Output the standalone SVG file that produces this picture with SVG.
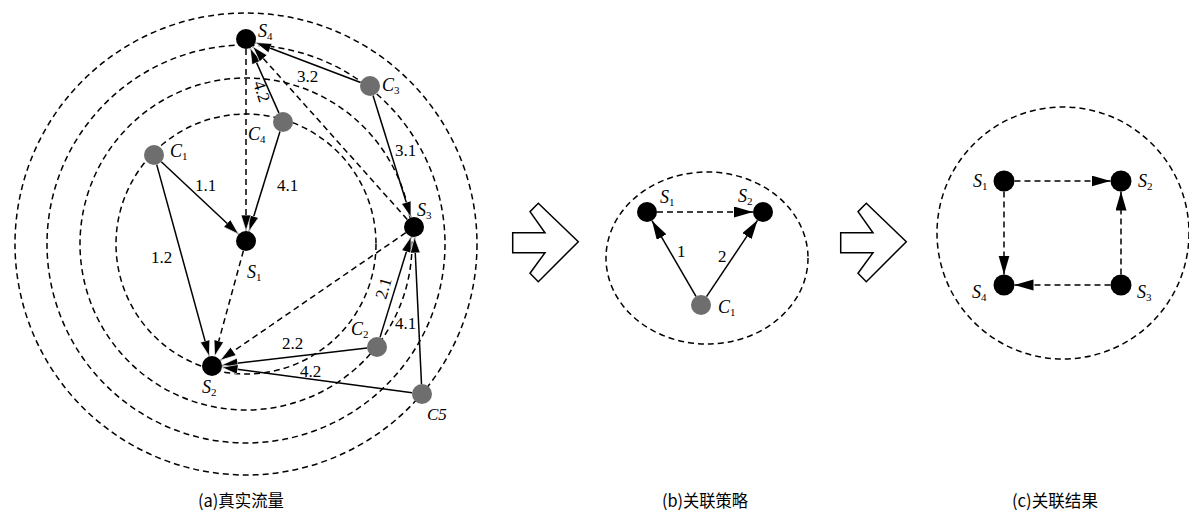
<svg xmlns="http://www.w3.org/2000/svg" width="1189" height="520" viewBox="0 0 1189 520">
  <style>
    .ring { fill: none; stroke: #000; stroke-width: 1.5; stroke-dasharray: 6 4; }
    .flow { stroke: #000; stroke-width: 1.5; fill: none; marker-end: url(#head); }
    .link { stroke: #000; stroke-width: 1.5; fill: none; stroke-dasharray: 6 4; marker-end: url(#head); }
    .flow.big, .link.big { marker-end: url(#head-lg); }
    .srv { fill: #000; }
    .cli { fill: #6e6e6e; }
    .lbl { font-family: "Liberation Serif", "DejaVu Serif", serif; font-size: 17px; fill: #000; }
    .it { font-style: italic; font-size: 18px; }
    .sub { font-size: 11px; font-style: normal; }
    .cap { font-family: "Noto Sans CJK SC", "Liberation Sans", sans-serif; font-size: 17px; fill: #000; }
    .chev { fill: #fff; stroke: #000; stroke-width: 1.5; stroke-linejoin: miter; }
  </style>
  <defs>
    <marker id="head" markerUnits="userSpaceOnUse" markerWidth="18" markerHeight="12" refX="16" refY="5" orient="auto">
      <path d="M0,0 L16,5 L0,10 z" fill="#000" stroke="#fff" stroke-width="0.7"/>
    </marker>
    <marker id="head-lg" markerUnits="userSpaceOnUse" markerWidth="20" markerHeight="12" refX="19" refY="5.5" orient="auto">
      <path d="M0,0 L19,5.5 L0,11 z" fill="#000"/>
    </marker>
    <polygon id="chevron" points="0,29.4 32.3,29.4 17.3,8.4 25.6,0 65.6,38.4 25.6,78.4 17.3,70 32.3,49.4 0,49.4"/>
  </defs>

  <!-- (a) traffic rings -->
  <g id="rings-a">
    <circle class="ring" cx="246" cy="244" r="130"/>
    <circle class="ring" cx="246" cy="244" r="166"/>
    <circle class="ring" cx="246" cy="244" r="199"/>
    <circle class="ring" cx="246" cy="244" r="231"/>
  </g>

  <!-- (a) connectors -->
  <g id="edges-a">
    <line class="flow" x1="161.3" y1="161.8" x2="238.7" y2="234.2"/>
    <line class="flow" x1="156.7" y1="164.6" x2="209.3" y2="356.4"/>
    <line class="flow" x1="280.0" y1="131.5" x2="249.0" y2="231.5"/>
    <line class="flow" x1="278.9" y1="112.9" x2="250.1" y2="48.1"/>
    <line class="flow" x1="360.6" y1="82.5" x2="255.4" y2="42.5"/>
    <line class="flow" x1="373.0" y1="95.5" x2="411.0" y2="217.5"/>
    <line class="flow" x1="380.0" y1="337.4" x2="411.1" y2="236.5"/>
    <line class="flow" x1="367.1" y1="348.1" x2="221.9" y2="364.9"/>
    <line class="flow" x1="421.5" y1="384.0" x2="414.5" y2="237.0"/>
    <line class="flow" x1="412.1" y1="392.7" x2="221.9" y2="367.3"/>
    <line class="link" x1="246" y1="49" x2="246" y2="231"/>
    <line class="link" x1="243.4" y1="250.7" x2="214.6" y2="356.3"/>
    <line class="link" x1="405.8" y1="232.7" x2="220.2" y2="360.3"/>
    <line class="link" x1="407.3" y1="219.5" x2="252.7" y2="46.5"/>
  </g>

  <!-- (a) edge labels -->
  <g id="edge-labels-a" class="lbl">
    <text x="195" y="191">1.1</text>
    <text x="151" y="263">1.2</text>
    <text x="277" y="191">4.1</text>
    <text transform="translate(253,83) rotate(72)">4.2</text>
    <text x="297" y="82">3.2</text>
    <text x="395" y="156">3.1</text>
    <text transform="translate(386,300) rotate(-74)">2.1</text>
    <text x="282" y="349">2.2</text>
    <text x="395" y="329">4.1</text>
    <text x="300" y="377">4.2</text>
  </g>

  <!-- (a) nodes -->
  <g id="a-S4"><circle class="srv" cx="246" cy="39" r="10"/><text class="lbl" x="258" y="37"><tspan class="it">S</tspan><tspan class="sub" dy="3">4</tspan></text></g>
  <g id="a-S1"><circle class="srv" cx="246" cy="241" r="10"/><text class="lbl" x="247" y="278"><tspan class="it">S</tspan><tspan class="sub" dy="3">1</tspan></text></g>
  <g id="a-S2"><circle class="srv" cx="212" cy="366" r="10"/><text class="lbl" x="202" y="393"><tspan class="it">S</tspan><tspan class="sub" dy="3">2</tspan></text></g>
  <g id="a-S3"><circle class="srv" cx="414" cy="227" r="10"/><text class="lbl" x="417" y="216"><tspan class="it">S</tspan><tspan class="sub" dy="3">3</tspan></text></g>
  <g id="a-C1"><circle class="cli" cx="154" cy="155" r="10"/><text class="lbl" x="170" y="157"><tspan class="it">C</tspan><tspan class="sub" dy="3">1</tspan></text></g>
  <g id="a-C2"><circle class="cli" cx="377" cy="347" r="10"/><text class="lbl" x="351" y="335"><tspan class="it">C</tspan><tspan class="sub" dy="3">2</tspan></text></g>
  <g id="a-C3"><circle class="cli" cx="370" cy="86" r="10"/><text class="lbl" x="382" y="91"><tspan class="it">C</tspan><tspan class="sub" dy="3">3</tspan></text></g>
  <g id="a-C4"><circle class="cli" cx="283" cy="122" r="10"/><text class="lbl" x="248" y="140"><tspan class="it">C</tspan><tspan class="sub" dy="3">4</tspan></text></g>
  <g id="a-C5"><circle class="cli" cx="422" cy="394" r="10"/><text class="lbl" x="427" y="420" font-style="italic" font-size="18">C5</text></g>

  <!-- step arrows -->
  <g id="step-arrow-1"><use href="#chevron" class="chev" x="512.7" y="203.3"/></g>
  <g id="step-arrow-2"><use href="#chevron" class="chev" x="840.7" y="203.3"/></g>

  <!-- (b) association strategy -->
  <g id="ring-b"><ellipse class="ring" cx="707" cy="258" rx="101" ry="86"/></g>
  <g id="edges-b">
    <line class="link big" x1="657" y1="212" x2="753" y2="212"/>
    <line class="flow big" x1="696" y1="296.3" x2="652.0" y2="220.7"/>
    <line class="flow big" x1="706.5" y1="296.7" x2="757.5" y2="220.3"/>
  </g>
  <g id="edge-labels-b" class="lbl">
    <text x="677" y="257">1</text>
    <text x="718" y="262">2</text>
  </g>
  <g id="b-S1"><circle class="srv" cx="647" cy="212" r="10"/><text class="lbl" x="660" y="203"><tspan class="it">S</tspan><tspan class="sub" dy="3">1</tspan></text></g>
  <g id="b-S2"><circle class="srv" cx="763" cy="212" r="10"/><text class="lbl" x="738" y="202"><tspan class="it">S</tspan><tspan class="sub" dy="3">2</tspan></text></g>
  <g id="b-C1"><circle class="cli" cx="701" cy="305" r="10"/><text class="lbl" x="718" y="313"><tspan class="it">C</tspan><tspan class="sub" dy="3">1</tspan></text></g>

  <!-- (c) association result -->
  <g id="ring-c"><circle class="ring" cx="1063" cy="233" r="126"/></g>
  <g id="edges-c">
    <line class="link big" x1="1014.5" y1="181" x2="1110.5" y2="181"/>
    <line class="link big" x1="1004" y1="191.5" x2="1004" y2="274.5"/>
    <line class="link big" x1="1121" y1="274.5" x2="1121" y2="191.5"/>
    <line class="link big" x1="1110.5" y1="285" x2="1014.5" y2="285"/>
  </g>
  <g id="c-S1"><circle class="srv" cx="1004" cy="181" r="10.5"/><text class="lbl" x="973" y="187"><tspan class="it">S</tspan><tspan class="sub" dy="3">1</tspan></text></g>
  <g id="c-S2"><circle class="srv" cx="1121" cy="181" r="10.5"/><text class="lbl" x="1138" y="187"><tspan class="it">S</tspan><tspan class="sub" dy="3">2</tspan></text></g>
  <g id="c-S3"><circle class="srv" cx="1121" cy="285" r="10.5"/><text class="lbl" x="1137" y="298"><tspan class="it">S</tspan><tspan class="sub" dy="3">3</tspan></text></g>
  <g id="c-S4"><circle class="srv" cx="1004" cy="285" r="10.5"/><text class="lbl" x="972" y="298"><tspan class="it">S</tspan><tspan class="sub" dy="3">4</tspan></text></g>

  <!-- captions -->
  <g id="captions" class="cap">
    <text x="241" y="507" text-anchor="middle" textLength="86" lengthAdjust="spacingAndGlyphs">(a)真实流量</text>
    <text x="705" y="507" text-anchor="middle" textLength="86" lengthAdjust="spacingAndGlyphs">(b)关联策略</text>
    <text x="1055" y="507" text-anchor="middle" textLength="86" lengthAdjust="spacingAndGlyphs">(c)关联结果</text>
  </g>
</svg>
